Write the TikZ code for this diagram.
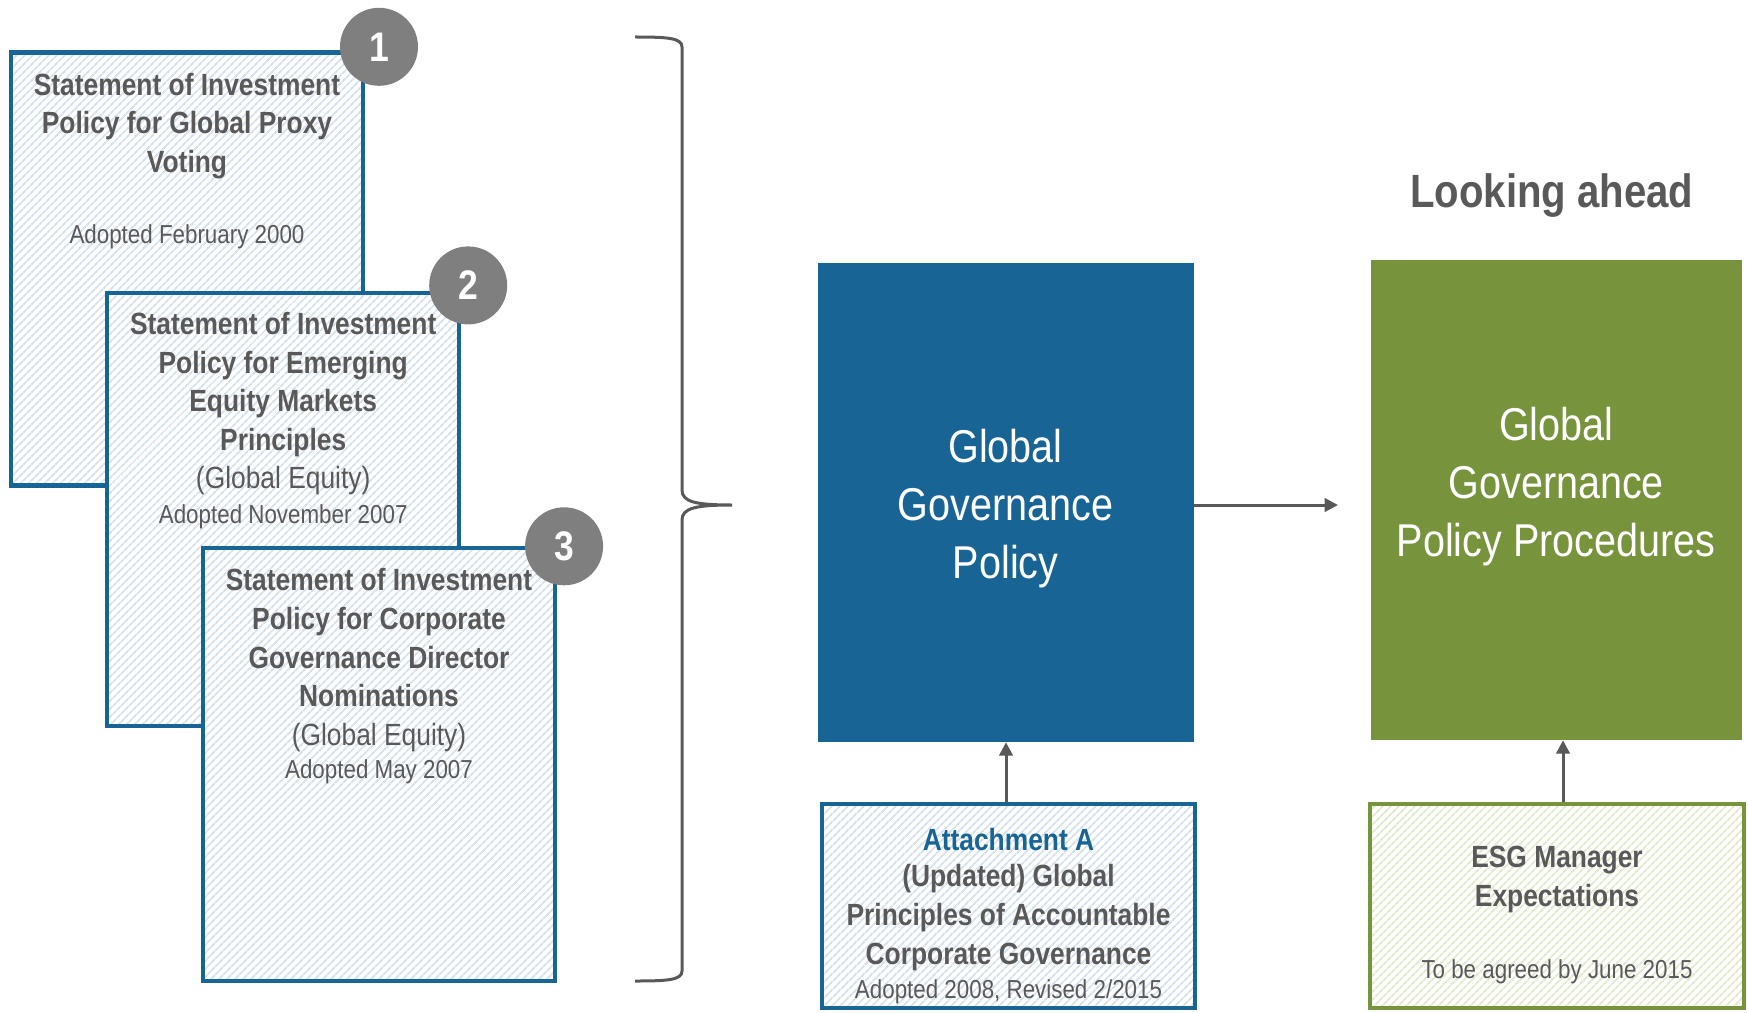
\documentclass[tikz,border=0pt]{standalone}
\usepackage{xcolor}
\usepackage{fontspec}
\setmainfont{Liberation Sans}[FakeStretch=0.86]
\usepackage{tikz}
\usetikzlibrary{arrows.meta,patterns.meta}

\definecolor{polblue}{RGB}{24,100,148}
\definecolor{polgreen}{RGB}{119,147,60}
\definecolor{txtgrey}{RGB}{89,89,89}
\definecolor{numgrey}{RGB}{127,127,127}
\definecolor{hatchblue}{RGB}{216,227,240}
\definecolor{hatchgreen}{RGB}{226,235,208}

\begin{document}
\begin{tikzpicture}[x=0.75pt,y=0.75pt,yscale=-1,xscale=1,
    docbox/.style={draw=polblue,line width=3.2pt,preaction={fill=white},pattern={Lines[angle=45,distance=4pt,line width=1.6pt]},pattern color=hatchblue,inner sep=0pt,minimum width=264pt,minimum height=324.75pt},
    esgbox/.style={draw=polgreen,line width=3.2pt,preaction={fill=white},pattern={Lines[angle=45,distance=4pt,line width=1.6pt]},pattern color=hatchgreen,inner sep=0pt,minimum width=280.5pt,minimum height=153pt},
    mainbox/.style={inner sep=0pt,minimum width=282pt,minimum height=359.25pt},
    numdot/.style={circle,fill=numgrey,text=white,inner sep=0pt,minimum size=58.5pt,font=\fontsize{31}{31}\selectfont\bfseries},
    headtxt/.style={text=txtgrey,align=center,inner sep=0pt,font=\fontsize{23}{29}\selectfont\bfseries},
    subtxt/.style={text=txtgrey,align=center,inner sep=0pt,font=\fontsize{23}{29}\selectfont},
    datetxt/.style={text=txtgrey,align=center,inner sep=0pt,font=\fontsize{19.5}{24}\selectfont},
    bigtxt/.style={text=white,align=center,inner sep=0pt,font=\fontsize{34.5}{43.5}\selectfont},
    flow/.style={draw=txtgrey,line width=2.25pt,-{Triangle[length=10pt,width=10pt]}}]

    \useasboundingbox (0,0) rectangle (1748,1013);

    \draw (187,269) node (sip1) [docbox] {};
    \draw (379,46.8) node (num1) [numdot] {1};
    \draw (283.2,509.5) node (sip2) [docbox] {};
    \draw (468.2,285.4) node (num2) [numdot] {2};
    \draw (379,764.8) node (sip3) [docbox] {};
    \draw (564.1,546.3) node (num3) [numdot] {3};

    \draw (187,126) node (sip1head) [headtxt] {Statement of Investment\\Policy for Global Proxy\\Voting};
    \draw (187,237) node (sip1date) [datetxt] {Adopted February 2000};
    \draw (283.2,384.7) node (sip2head) [headtxt] {Statement of Investment\\Policy for Emerging\\Equity Markets\\Principles};
    \draw (283.2,481) node (sip2sub) [subtxt] {(Global Equity)};
    \draw (283.2,516.8) node (sip2date) [datetxt] {Adopted November 2007};
    \draw (379,637.8) node (sip3head) [headtxt] {Statement of Investment\\Policy for Corporate\\Governance Director\\Nominations};
    \draw (379,737.5) node (sip3sub) [subtxt] {(Global Equity)};
    \draw (379,772) node (sip3date) [datetxt] {Adopted May 2007};

    \draw [draw=txtgrey,line width=2.25pt] (635,37) .. controls (668,37) and (682,38) .. (682,47) -- (682,490) .. controls (682,502) and (696,505) .. (732,505) .. controls (696,505) and (682,508) .. (682,520) -- (682,971) .. controls (682,980) and (668,981) .. (635,981);

    \draw (1006,502.5) node (gpol) [mainbox,fill=polblue] {};
    \draw (1005.6,509) node (gpoltxt) [bigtxt] {Global\\Governance\\Policy};
    \draw (1556.5,500) node (gproc) [mainbox,fill=polgreen,minimum width=278.25pt,minimum height=360pt] {};
    \draw (1556.2,486.7) node (gproctxt) [bigtxt] {Global\\Governance\\Policy Procedures};
    \draw (1551.8,196) node (ahead) [text=txtgrey,inner sep=0pt,font=\fontsize{35}{35}\selectfont\bfseries] {Looking ahead};

    \draw (1008.5,906) node (attach) [docbox,minimum width=279.75pt,minimum height=153pt] {};
    \draw (1008.5,839.5) node (attachhead) [headtxt,text=polblue] {Attachment A};
    \draw (1008.5,917.5) node (attachbody) [headtxt] {(Updated) Global\\Principles of Accountable\\Corporate Governance};
    \draw (1008.5,991.5) node (attachdate) [datetxt] {Adopted 2008, Revised 2/2015};
    \draw (1557,906) node (esg) [esgbox] {};
    \draw (1557,879.2) node (esghead) [headtxt] {ESG Manager\\Expectations};
    \draw (1557,971.5) node (esgdate) [datetxt] {To be agreed by June 2015};

    \coordinate (gprocin) at (1338,505);
    \draw [flow] (gprocin -| gpol.east) -- (gprocin);
    \draw [flow] (attach.north -| gpol.south) -- (gpol.south);
    \draw [flow] ([xshift=4.5pt]esg.north) -- ([xshift=4.5pt]esg.north |- gproc.south);

\end{tikzpicture}
\end{document}
